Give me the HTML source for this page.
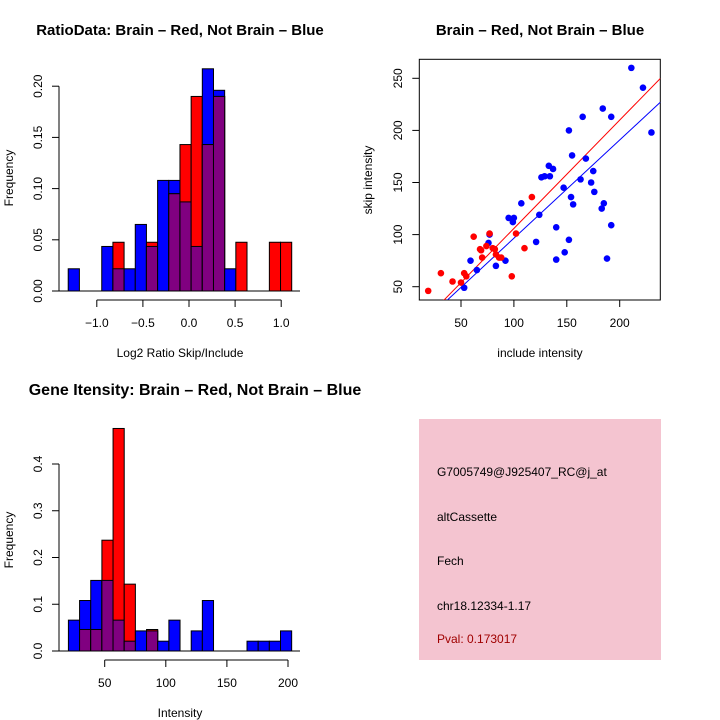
<!DOCTYPE html>
<html><head><meta charset="utf-8">
<style>
html,body{margin:0;padding:0;background:#fff;}
svg{display:block;font-family:"Liberation Sans",sans-serif;}
</style></head>
<body>
<svg id="chart" width="720" height="720" viewBox="0 0 720 720">
  <rect x="0" y="0" width="720" height="720" fill="#fff"/>
  <text x="180" y="35" text-anchor="middle" font-weight="bold" font-size="15">RatioData: Brain – Red, Not Brain – Blue</text>
  <text x="540" y="35" text-anchor="middle" font-weight="bold" font-size="15">Brain – Red, Not Brain – Blue</text>
  <text x="195" y="395" text-anchor="middle" font-weight="bold" font-size="16">Gene Itensity: Brain – Red, Not Brain – Blue</text>
  <text x="180" y="357" text-anchor="middle" font-size="12">Log2 Ratio Skip/Include</text>
  <text x="13" y="178" text-anchor="middle" font-size="12" transform="rotate(-90 13 178)">Frequency</text>
  <text x="540" y="357" text-anchor="middle" font-size="12">include intensity</text>
  <text x="372" y="180" text-anchor="middle" font-size="12" transform="rotate(-90 372 180)">skip intensity</text>
  <text x="180" y="717" text-anchor="middle" font-size="12">Intensity</text>
  <text x="13" y="540" text-anchor="middle" font-size="12" transform="rotate(-90 13 540)">Frequency</text>
  <g>
    <rect x="419" y="419" width="242" height="241" fill="#f4c4d0"/>
    <g font-size="12">
      <text x="437" y="476">G7005749@J925407_RC@j_at</text>
      <text x="437" y="521">altCassette</text>
      <text x="437" y="565">Fech</text>
      <text x="437" y="610">chr18.12334-1.17</text>
      <text x="437" y="643" fill="#a00000">Pval: 0.173017</text>
    </g>
  </g>
  <g id="g1"></g>
  <g id="g2"></g>
  <g id="g3"></g>
</svg>
<script>
// ---- Ratio histogram data ----
const ratioBinStart = -1.31;
const ratioBinWidth = 0.1212;
const ratioBlue = [0.0217,0,0,0.0435,0.0217,0.0217,0.065,0.0435,0.108,0.108,0.087,0.0435,0.217,0.196,0.0217,0,0,0,0,0];
const ratioRed  = [0,0,0,0,0.0476,0,0,0.0476,0,0.095,0.143,0.190,0.143,0.190,0,0.0476,0,0,0.0476,0.0476];
const ratioXTicks = [-1.0,-0.5,0.0,0.5,1.0];
const ratioXTickLabels = ["\u22121.0","\u22120.5","0.0","0.5","1.0"];
const ratioYTicks = [0,0.05,0.10,0.15,0.20];
const ratioYTickLabels = ["0.00","0.05","0.10","0.15","0.20"];
// ---- Scatter data ----
const blueX = [211,222,184,192,165,152,230,155,168,133,137,134,129,126,175,163,173,147,176,154,156,185,183,107,95,100,99,124,192,140,77,152,121,148,188,140,59,83,92,65,76,53];
const blueY = [260,241,221,213,213,200,198,176,173,166,163,156,156,155,161,153,150,145,141,136,129,130,125,130,116,116,112,119,109,107,100,95,93,83,77,76,75,70,75,66,92,49];
const redX = [19,31,42,50,53,55,62,68,69,70,74,77,80,82,83,86,88,98,102,110,117];
const redY = [46,63,55,54,63,60,98,86,85,78,89,101,87,86,81,78,78,60,101,87,136];
const redFit = [1.9,1.04];
const blueFit = [2.2,0.943];
const scatterXTicks = [50,100,150,200];
const scatterYTicks = [50,100,150,200,250];
// ---- Intensity histogram data ----
const intBinStart = 20.3;
const intBinWidth = 9.135;
const intBlue = [0.066,0.108,0.151,0.151,0.066,0.021,0.043,0.043,0.021,0.066,0,0.043,0.108,0,0,0,0.021,0.021,0.021,0.043];
const intRed  = [0,0.046,0.046,0.237,0.476,0.143,0,0.046,0,0,0,0,0,0,0,0,0,0,0,0];
const intXTicks = [50,100,150,200];
const intYTicks = [0,0.1,0.2,0.3,0.4];
const intYTickLabels = ["0.0","0.1","0.2","0.3","0.4"];

const NS="http://www.w3.org/2000/svg";
function mk(parent,tag,attrs){const e=document.createElementNS(NS,tag);for(const k in attrs)e.setAttribute(k,attrs[k]);parent.appendChild(e);return e;}

function drawHist(g,cfg){
  const sx=v=>cfg.x0px+(v-cfg.x0)*cfg.kx;
  const sy=v=>cfg.y0px-v*cfg.ky;
  for(let i=0;i<cfg.blue.length;i++){
    const l=sx(cfg.start+i*cfg.w), r=sx(cfg.start+(i+1)*cfg.w);
    const b=cfg.blue[i], rd=cfg.red[i], m=Math.min(b,rd);
    const layers=[[b,'#0000ff','blue'],[rd,'#ff0000','red'],[m,'#800080','overlap']];
    for(const [v,c,n] of layers){
      if(v<=0)continue;
      const el=mk(g,'rect',{x:l,y:sy(v),width:r-l,height:sy(0)-sy(v),fill:c,stroke:'#000','stroke-width':1});
      
      
    }
  }
  const base=mk(g,'line',{x1:59,x2:300,y1:sy(0),y2:sy(0),stroke:'#000','stroke-width':1});
  
  
  const ya=mk(g,'g',{});
  
  
  const yt=cfg.yTicks;
  mk(ya,'line',{x1:59,x2:59,y1:sy(yt[0]),y2:sy(yt[yt.length-1]),stroke:'#000'});
  yt.forEach((v,i)=>{
    mk(ya,'line',{x1:52,x2:59,y1:sy(v),y2:sy(v),stroke:'#000'});
    const t=mk(ya,'text',{x:42,y:sy(v),'text-anchor':'middle','font-size':12,transform:`rotate(-90 42 ${sy(v)})`});
    t.textContent=cfg.yLabels[i];
    
    
  });
  const xa=mk(g,'g',{});
  
  
  const xt=cfg.xTicks;
  mk(xa,'line',{x1:sx(xt[0]),x2:sx(xt[xt.length-1]),y1:cfg.axY,y2:cfg.axY,stroke:'#000'});
  xt.forEach((v,i)=>{
    mk(xa,'line',{x1:sx(v),x2:sx(v),y1:cfg.axY,y2:cfg.axY+7,stroke:'#000'});
    const t=mk(xa,'text',{x:sx(v),y:cfg.axY+27,'text-anchor':'middle','font-size':12});
    t.textContent=cfg.xLabels[i];
    
    
  });
}

drawHist(document.getElementById('g1'),{x0:0,x0px:189,kx:92.2,y0px:291,ky:1024,start:ratioBinStart,w:ratioBinWidth,blue:ratioBlue,red:ratioRed,
  yTicks:ratioYTicks,yLabels:ratioYTickLabels,xTicks:ratioXTicks,xLabels:ratioXTickLabels,axY:300});
drawHist(document.getElementById('g3'),{x0:50,x0px:104.7,kx:1.222,y0px:651,ky:467.5,start:intBinStart,w:intBinWidth,blue:intBlue,red:intRed,
  yTicks:intYTicks,yLabels:intYTickLabels,xTicks:intXTicks,xLabels:intXTicks.map(String),axY:660});

(function(){
  const g=document.getElementById('g2');
  const L=419.3,R=660.3,T=59.3,B=300;
  const sx=v=>461+(v-50)*1.058;
  const sy=v=>286.7-(v-50)*1.042;
  const inv=px=>50+(px-461)/1.058;
  const defs=mk(g,'defs',{});
  const cp=mk(defs,'clipPath',{id:'clipS'});
  mk(cp,'rect',{x:L,y:T,width:R-L,height:B-T});
  const box=mk(g,'rect',{x:L,y:T,width:R-L,height:B-T,fill:'none',stroke:'#000'});
  
  
  const xl=inv(L), xr=inv(R);
  [[redFit,'#ff0000','red-fit-line'],[blueFit,'#0000ff','blue-fit-line']].forEach(([f,c,n])=>{
    const ln=mk(g,'line',{x1:sx(xl),y1:sy(f[0]+f[1]*xl),x2:sx(xr),y2:sy(f[0]+f[1]*xr),stroke:c,'stroke-width':1,'clip-path':'url(#clipS)'});
    
    
  });
  blueX.forEach((v,i)=>{
    const c=mk(g,'circle',{cx:sx(v),cy:sy(blueY[i]),r:3.3,fill:'#0000ff'});
    
    
  });
  redX.forEach((v,i)=>{
    const c=mk(g,'circle',{cx:sx(v),cy:sy(redY[i]),r:3.3,fill:'#ff0000'});
    
    
  });
  scatterXTicks.forEach(v=>{
    mk(g,'line',{x1:sx(v),x2:sx(v),y1:B,y2:B+7,stroke:'#000'});
    const t=mk(g,'text',{x:sx(v),y:B+27,'text-anchor':'middle','font-size':12});
    t.textContent=String(v);
    
    
  });
  scatterYTicks.forEach(v=>{
    mk(g,'line',{x1:L-7,x2:L,y1:sy(v),y2:sy(v),stroke:'#000'});
    const t=mk(g,'text',{x:402,y:sy(v),'text-anchor':'middle','font-size':12,transform:`rotate(-90 402 ${sy(v)})`});
    t.textContent=String(v);
    
    
  });
})();
</script>
</body></html>
